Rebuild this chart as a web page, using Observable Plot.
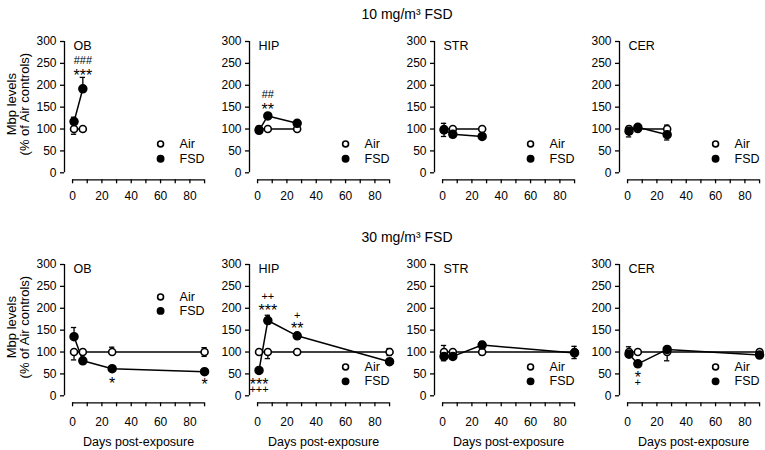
<!DOCTYPE html>
<html><head><meta charset="utf-8">
<script src="https://cdn.jsdelivr.net/npm/d3@7"></script>
<script src="https://cdn.jsdelivr.net/npm/@observablehq/plot@0.6"></script>
<style>
body{margin:0;background:#fff;}
#root{position:relative;width:765px;height:450px;overflow:hidden;font-family:"Liberation Sans",Arial,sans-serif;color:#000;}
.title{position:absolute;left:0;width:814px;text-align:center;font-size:14px;line-height:18px;}
.panel{position:absolute;}
</style></head><body><div id="root"></div>
<script>
// ---- data ----
const regions = ["OB", "HIP", "STR", "CER"];
const doses = ["10 mg/m³ FSD", "30 mg/m³ FSD"];
const days10 = [1, 7, 27];
const days30 = [1, 7, 27, 90];
const xTicks = [0, 10, 20, 30, 40, 50, 60, 70, 80, 90];
const yTicks = [0, 50, 100, 150, 200, 250, 300];

// means (% of Air controls), one row per region
const air10 = [[100, 100, null], [100, 100, 100], [100, 100, 100], [100, 100, 100]];
const fsd10 = [[117, 192, null], [97, 130, 113], [98, 88, 83], [95, 104, 87]];
const air30 = [[100, 100, 100, 100], [100, 100, 100, 100], [100, 100, 100, 100], [100, 100, 100, 100]];
const fsd30 = [[135, 80, 62, 55], [58, 172, 137, 78], [90, 90, 116, 98], [95, 73, 106, 93]];

// error bar ends [lower, upper] (null = not drawn)
const air10Err = [[[88, null], [95, null], null], [[null, 103], [null, 103], [null, 103]], [[92, null], [null, 103], [null, 103]], [[null, 106], [94, null], [null, 109]]];
const fsd10Err = [[[null, 127], [null, 218], null], [[null, 106], [null, 135], [null, 117]], [[83, 113], [81, 95], [null, 87]], [[82, null], [null, 107], [75, null]]];
const air30Err = [[[82, null], [null, 103], [null, 111], [90, 110]], [[null, 103], [85, null], [95, 105], [92, 108]], [[null, 115], [null, 103], [94, null], [null, 103]], [[null, 112], [null, 103], [80, null], [null, 103]]];
const fsd30Err = [[[null, 156], [null, 84], [null, 65], [null, 59]], [[null, 62], [null, 184], [null, 141], [null, 82]], [[80, 100], [85, null], [null, 124], [85, 113]], [[null, 99], [null, 76], [null, 109], [null, 96]]];

// significance marks: [dose row, region, day, text, y]
const annotations = [
  [0, "OB", 7, "***", 231], [0, "OB", 7, "###", 256],
  [0, "HIP", 7, "**", 153], [0, "HIP", 7, "##", 178],
  [1, "OB", 27, "*", 36], [1, "OB", 90, "*", 34],
  [1, "HIP", 1, "***", 34], [1, "HIP", 1, "+++", 15],
  [1, "HIP", 7, "***", 203], [1, "HIP", 7, "++", 226],
  [1, "HIP", 27, "**", 162], [1, "HIP", 27, "+", 183],
  [1, "CER", 7, "*", 51], [1, "CER", 7, "+", 30]
];

// ---- layout ----
const FONT = "Liberation Sans, Arial, sans-serif";
const root = document.getElementById("root");
const rowTop = [30, 253];
const rowH = [175, 197];

function series(days, vals, errs) {
  const pts = [], bars = [];
  days.forEach((d, i) => {
    if (vals[i] == null) return;
    pts.push({day: d, v: vals[i]});
    const e = errs[i];
    if (e) for (const end of e) if (end != null) bars.push({day: d, v: vals[i], end});
  });
  return {pts, bars};
}

function panel(row, c) {
  const days = row ? days30 : days10;
  const air = series(days, (row ? air30 : air10)[c], (row ? air30Err : air10Err)[c]);
  const fsd = series(days, (row ? fsd30 : fsd10)[c], (row ? fsd30Err : fsd10Err)[c]);
  const bars = [...air.bars, ...fsd.bars];
  const ann = annotations.filter(a => a[0] === row && a[1] === regions[c])
    .map(a => ({day: a[2], t: a[3], y: a[4]}));
  const star = ann.filter(a => a.t.includes("*"));
  const other = ann.filter(a => !a.t.includes("*"));
  const leg = (row === 1 && c === 0) ? [226, 194] : (row === 1 ? [66, 33] : [66, 32]);
  const legend = [{x: 60, y: leg[0], t: "Air", open: true}, {x: 60, y: leg[1], t: "FSD", open: false}];
  const W = 210, H = rowH[row];
  const marks = [
    Plot.ruleX([-5.5], {y1: 0, y2: 300, stroke: "black", strokeWidth: 1.3}),
    Plot.ruleY([-16], {x1: 0, x2: 90, stroke: "black", strokeWidth: 1.3}),
    Plot.axisY({ticks: yTicks, tickSize: 4, tickPadding: 4, label: null, strokeWidth: 1.3}),
    Plot.axisX({ticks: xTicks, tickSize: 4, tickPadding: row ? 11 : 8, label: null, strokeWidth: 1.3,
      tickFormat: d => d % 20 === 0 ? String(d) : ""}),
    Plot.line(fsd.pts, {x: "day", y: "v", stroke: "black", strokeWidth: 1.5}),
    Plot.line(air.pts, {x: "day", y: "v", stroke: "black", strokeWidth: 1.5}),
    Plot.ruleX(bars, {x: "day", y1: "v", y2: "end", stroke: "black", strokeWidth: 1.3}),
    Plot.ruleY(bars, {y: "end", x1: d => d.day - 1.8, x2: d => d.day + 1.8, stroke: "black", strokeWidth: 1.3}),
    Plot.dot(air.pts, {x: "day", y: "v", r: 3.5, fill: "white", stroke: "black", strokeWidth: 1.6}),
    Plot.dot(fsd.pts, {x: "day", y: "v", r: 4, fill: "black", stroke: "black"}),
    Plot.text([regions[c]], {frameAnchor: "top-left", dx: 9, dy: 4, lineAnchor: "middle", textAnchor: "start", fontSize: 12.5}),
    Plot.text(star, {x: "day", y: "y", text: "t", fontSize: 16, dy: 4, lineAnchor: "middle"}),
    Plot.text(other, {x: "day", y: "y", text: "t", fontSize: 11, lineAnchor: "middle"}),
    Plot.dot(legend, {x: "x", y: "y", r: d => d.open ? 3.5 : 4, fill: d => d.open ? "white" : "black", stroke: "black", strokeWidth: 1.6}),
    Plot.text(legend, {x: "x", y: "y", text: "t", dx: 19, textAnchor: "start", lineAnchor: "middle", fontSize: 12.5})
  ];
  if (c === 0) marks.push(Plot.text(["Mbp levels\n(% of Air controls)"], {
    x: () => -5.5, y: () => 150, dx: -46.5, dy: -3, rotate: -90,
    textAnchor: "middle", lineAnchor: "middle", lineHeight: 1.05, fontSize: 13}));
  if (row === 1) marks.push(Plot.text(["Days post-exposure"], {
    x: () => 45, frameAnchor: "bottom", dy: 39, lineAnchor: "middle", textAnchor: "middle", fontSize: 12.5}));
  const svg = Plot.plot({
    width: W, height: H,
    marginLeft: 64, marginRight: W - 204.07, marginTop: 11, marginBottom: H - 149.3,
    x: {domain: [-5.5, 90]},
    y: {domain: [-16, 300]},
    style: {fontFamily: FONT, fontSize: "12px", background: "transparent", overflow: "visible", color: "black"},
    marks
  });
  svg.classList.add("panel");
  svg.style.left = (185 * c) + "px";
  svg.style.top = rowTop[row] + "px";
  root.appendChild(svg);
}

doses.forEach((t, row) => {
  const d = document.createElement("div");
  d.className = "title";
  d.style.top = (row ? 228 : 5) + "px";
  d.textContent = t;
  root.appendChild(d);
  regions.forEach((r, c) => panel(row, c));
});
</script></body></html>
